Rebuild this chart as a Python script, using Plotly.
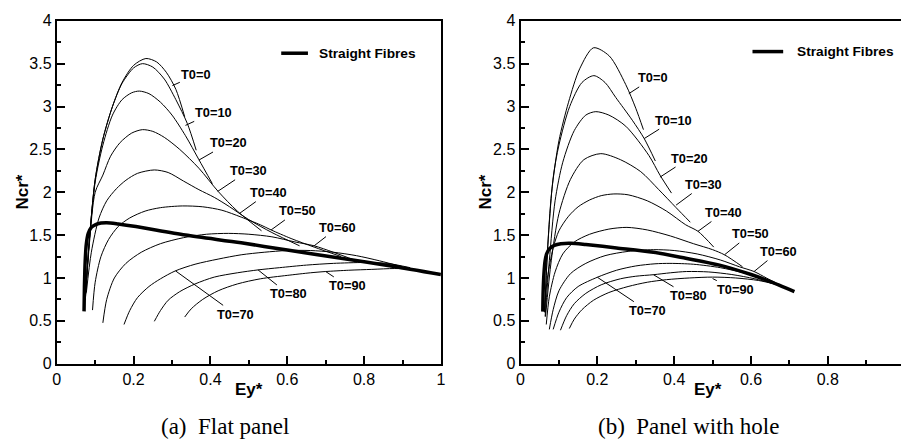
import plotly.graph_objects as go

W, H = 906, 448

# ---------------- data: (a) Flat panel ----------------
flat_straight_x = [0.071, 0.072, 0.074, 0.077, 0.082, 0.090, 0.100, 0.115, 0.130, 0.160, 0.206, 0.335, 0.480, 0.600, 0.740, 0.870, 1.000]
flat_straight_y = [0.61, 0.90, 1.20, 1.40, 1.52, 1.59, 1.62, 1.64, 1.645, 1.63, 1.60, 1.50, 1.41, 1.325, 1.23, 1.14, 1.04]

flat_t0_0_x = [0.074, 0.085, 0.100, 0.120, 0.145, 0.170, 0.200, 0.232, 0.260, 0.285, 0.310, 0.333]
flat_t0_0_y = [0.75, 1.45, 2.15, 2.62, 3.00, 3.28, 3.48, 3.56, 3.52, 3.40, 3.20, 2.88]
flat_t0_10_x = [0.074, 0.085, 0.100, 0.120, 0.145, 0.170, 0.200, 0.223, 0.250, 0.280, 0.310, 0.340, 0.363]
flat_t0_10_y = [0.75, 1.45, 2.15, 2.62, 3.00, 3.27, 3.45, 3.50, 3.46, 3.32, 3.08, 2.80, 2.49]
flat_t0_20_x = [0.074, 0.085, 0.100, 0.120, 0.145, 0.170, 0.195, 0.215, 0.240, 0.270, 0.300, 0.335, 0.370, 0.405]
flat_t0_20_y = [0.75, 1.45, 2.12, 2.55, 2.90, 3.08, 3.16, 3.18, 3.15, 3.05, 2.90, 2.66, 2.38, 2.10]
flat_t0_30_x = [0.075, 0.085, 0.100, 0.120, 0.140, 0.165, 0.195, 0.223, 0.250, 0.280, 0.320, 0.370, 0.420, 0.470, 0.533]
flat_t0_30_y = [0.78, 1.40, 2.00, 2.20, 2.42, 2.58, 2.69, 2.73, 2.71, 2.64, 2.50, 2.28, 2.01, 1.78, 1.55]
flat_t0_40_x = [0.077, 0.090, 0.110, 0.130, 0.155, 0.180, 0.210, 0.254, 0.290, 0.330, 0.370, 0.410, 0.450, 0.500, 0.560, 0.632]
flat_t0_40_y = [0.83, 1.30, 1.70, 1.90, 2.04, 2.14, 2.22, 2.26, 2.23, 2.13, 2.03, 1.94, 1.83, 1.68, 1.53, 1.375]
flat_t0_50_x = [0.093, 0.100, 0.115, 0.135, 0.160, 0.190, 0.230, 0.270, 0.327, 0.380, 0.430, 0.480, 0.530, 0.558, 0.610, 0.670, 0.740]
flat_t0_50_y = [0.625, 0.95, 1.25, 1.45, 1.60, 1.70, 1.78, 1.82, 1.84, 1.83, 1.79, 1.71, 1.62, 1.56, 1.46, 1.36, 1.25]
flat_t0_60_x = [0.120, 0.130, 0.150, 0.180, 0.220, 0.270, 0.330, 0.390, 0.447, 0.500, 0.560, 0.620, 0.670, 0.720, 0.780]
flat_t0_60_y = [0.476, 0.75, 1.00, 1.17, 1.30, 1.40, 1.47, 1.51, 1.52, 1.51, 1.48, 1.42, 1.375, 1.30, 1.20]
flat_t0_70_x = [0.175, 0.190, 0.210, 0.240, 0.270, 0.309, 0.360, 0.420, 0.480, 0.540, 0.600, 0.660, 0.720, 0.780, 0.840, 0.900]
flat_t0_70_y = [0.457, 0.62, 0.77, 0.90, 0.99, 1.083, 1.16, 1.22, 1.27, 1.30, 1.32, 1.32, 1.30, 1.26, 1.20, 1.13]
flat_t0_80_x = [0.254, 0.270, 0.290, 0.320, 0.360, 0.410, 0.470, 0.524, 0.580, 0.650, 0.720, 0.800, 0.860, 0.920]
flat_t0_80_y = [0.494, 0.62, 0.74, 0.84, 0.93, 1.01, 1.06, 1.094, 1.12, 1.15, 1.17, 1.18, 1.17, 1.12]
flat_t0_90_x = [0.333, 0.350, 0.380, 0.420, 0.470, 0.530, 0.600, 0.660, 0.700, 0.760, 0.820, 0.880, 0.930]
flat_t0_90_y = [0.544, 0.64, 0.75, 0.85, 0.93, 0.99, 1.03, 1.06, 1.075, 1.09, 1.10, 1.11, 1.10]

# ---------------- data: (b) Panel with hole ----------------
hole_straight_x = [0.058, 0.059, 0.061, 0.064, 0.068, 0.075, 0.088, 0.105, 0.131, 0.170, 0.250, 0.346, 0.430, 0.518, 0.600, 0.647, 0.713]
hole_straight_y = [0.607, 0.85, 1.05, 1.20, 1.28, 1.34, 1.38, 1.40, 1.405, 1.39, 1.35, 1.30, 1.23, 1.15, 1.04, 0.963, 0.84]

hole_t0_0_x = [0.063, 0.070, 0.081, 0.100, 0.125, 0.154, 0.190, 0.231, 0.274, 0.300, 0.320]
hole_t0_0_y = [0.60, 1.30, 2.00, 2.60, 3.05, 3.44, 3.685, 3.59, 3.255, 2.98, 2.73]
hole_t0_10_x = [0.063, 0.070, 0.085, 0.100, 0.128, 0.160, 0.191, 0.220, 0.248, 0.291, 0.322, 0.351]
hole_t0_10_y = [0.60, 1.30, 2.17, 2.55, 3.00, 3.28, 3.36, 3.28, 3.105, 2.84, 2.626, 2.364]
hole_t0_20_x = [0.064, 0.075, 0.090, 0.110, 0.140, 0.170, 0.196, 0.230, 0.274, 0.334, 0.363, 0.393]
hole_t0_20_y = [0.55, 1.20, 1.90, 2.35, 2.72, 2.90, 2.94, 2.90, 2.77, 2.43, 2.20, 1.99]
hole_t0_30_x = [0.065, 0.080, 0.100, 0.130, 0.165, 0.209, 0.260, 0.313, 0.360, 0.405, 0.442]
hole_t0_30_y = [0.55, 1.20, 1.75, 2.15, 2.38, 2.45, 2.38, 2.24, 2.03, 1.82, 1.65]
hole_t0_40_x = [0.062, 0.070, 0.085, 0.100, 0.125, 0.150, 0.180, 0.210, 0.243, 0.280, 0.330, 0.380, 0.430, 0.462, 0.503]
hole_t0_40_y = [0.62, 1.00, 1.35, 1.55, 1.72, 1.83, 1.91, 1.96, 1.98, 1.97, 1.90, 1.78, 1.62, 1.544, 1.36]
hole_t0_50_x = [0.067, 0.075, 0.090, 0.110, 0.140, 0.180, 0.230, 0.277, 0.330, 0.390, 0.450, 0.500, 0.531, 0.578]
hole_t0_50_y = [0.457, 0.78, 1.07, 1.28, 1.42, 1.51, 1.57, 1.59, 1.56, 1.49, 1.40, 1.33, 1.27, 1.13]
hole_t0_60_x = [0.075, 0.085, 0.100, 0.130, 0.170, 0.220, 0.280, 0.346, 0.400, 0.460, 0.520, 0.570, 0.608, 0.640, 0.670]
hole_t0_60_y = [0.40, 0.63, 0.85, 1.05, 1.17, 1.26, 1.31, 1.33, 1.32, 1.28, 1.21, 1.13, 1.075, 1.00, 0.93]
hole_t0_70_x = [0.085, 0.100, 0.120, 0.150, 0.200, 0.250, 0.300, 0.350, 0.389, 0.450, 0.520, 0.580, 0.630, 0.670]
hole_t0_70_y = [0.40, 0.60, 0.77, 0.90, 1.008, 1.09, 1.14, 1.165, 1.17, 1.16, 1.12, 1.06, 0.99, 0.92]
hole_t0_80_x = [0.104, 0.120, 0.140, 0.170, 0.210, 0.260, 0.300, 0.346, 0.390, 0.432, 0.490, 0.550, 0.610, 0.670]
hole_t0_80_y = [0.39, 0.56, 0.70, 0.82, 0.92, 0.99, 1.02, 1.038, 1.06, 1.075, 1.07, 1.04, 0.99, 0.92]
hole_t0_90_x = [0.127, 0.140, 0.160, 0.190, 0.230, 0.280, 0.330, 0.380, 0.440, 0.500, 0.560, 0.620, 0.670]
hole_t0_90_y = [0.41, 0.52, 0.63, 0.74, 0.83, 0.90, 0.95, 0.98, 1.00, 1.01, 1.00, 0.97, 0.92]

t0_values = [0, 10, 20, 30, 40, 50, 60, 70, 80, 90]
x_ticks = [0, 0.2, 0.4, 0.6, 0.8, 1]
y_ticks = [0, 0.5, 1, 1.5, 2, 2.5, 3, 3.5, 4]

flat_curves = [
    (flat_t0_0_x, flat_t0_0_y), (flat_t0_10_x, flat_t0_10_y), (flat_t0_20_x, flat_t0_20_y),
    (flat_t0_30_x, flat_t0_30_y), (flat_t0_40_x, flat_t0_40_y), (flat_t0_50_x, flat_t0_50_y),
    (flat_t0_60_x, flat_t0_60_y), (flat_t0_70_x, flat_t0_70_y), (flat_t0_80_x, flat_t0_80_y),
    (flat_t0_90_x, flat_t0_90_y)]
hole_curves = [
    (hole_t0_0_x, hole_t0_0_y), (hole_t0_10_x, hole_t0_10_y), (hole_t0_20_x, hole_t0_20_y),
    (hole_t0_30_x, hole_t0_30_y), (hole_t0_40_x, hole_t0_40_y), (hole_t0_50_x, hole_t0_50_y),
    (hole_t0_60_x, hole_t0_60_y), (hole_t0_70_x, hole_t0_70_y), (hole_t0_80_x, hole_t0_80_y),
    (hole_t0_90_x, hole_t0_90_y)]

# label anchor points on curves (data) and label text centres (pixels) -- layout
flat_label_pts = [(0.301, 3.244), (0.335, 2.78), (0.370, 2.375), (0.419, 2.01), (0.477, 1.757),
                  (0.558, 1.56), (0.670, 1.375), (0.309, 1.083), (0.524, 1.094), (0.700, 1.075)]
flat_label_px = [(194, 70), (211.7, 109), (226.7, 141), (246.7, 170), (266.7, 192.7),
                 (296, 211.7), (336.7, 229), (233.3, 316.7), (286.7, 296.3), (346.7, 288.3)]
hole_label_pts = [(0.282, 3.15), (0.322, 2.626), (0.363, 2.176), (0.405, 1.85), (0.462, 1.544),
                  (0.531, 1.27), (0.608, 1.075), (0.200, 1.008), (0.346, 1.038), (0.500, 0.993)]
hole_label_px = [(655.3, 73.3), (676, 117.3), (692, 156.7), (706.7, 184.3), (726.7, 213.3),
                 (753.7, 235.7), (782, 254), (649.3, 313.3), (691, 298.3), (738.3, 292.3)]

# panel geometry in pixels
Y0_PX, Y4_PX = 369.7, 13.3
PX_PER_X = 388.0
L_X0 = 53.3
R_X0 = 521.7

def paper_x(px):
    return px / W

def paper_y(py):
    return 1 - py / H

fig = go.Figure()

for (cx, cy) in flat_curves:
    fig.add_trace(go.Scatter(x=cx, y=cy, mode="lines", line=dict(color="black", width=1, shape="spline", smoothing=0.8),
                             xaxis="x", yaxis="y", showlegend=False, hoverinfo="skip"))
fig.add_trace(go.Scatter(x=flat_straight_x, y=flat_straight_y, mode="lines",
                         line=dict(color="black", width=3.5, shape="spline", smoothing=0.8),
                         xaxis="x", yaxis="y", showlegend=False))
for (cx, cy) in hole_curves:
    fig.add_trace(go.Scatter(x=cx, y=cy, mode="lines", line=dict(color="black", width=1, shape="spline", smoothing=0.8),
                             xaxis="x2", yaxis="y2", showlegend=False, hoverinfo="skip"))
fig.add_trace(go.Scatter(x=hole_straight_x, y=hole_straight_y, mode="lines",
                         line=dict(color="black", width=3.5, shape="spline", smoothing=0.8),
                         xaxis="x2", yaxis="y2", showlegend=False))

tickfont = dict(family="Liberation Sans, Arial, sans-serif", size=16, color="black")
ydom = [paper_y(Y0_PX), paper_y(Y4_PX)]

def xaxis_cfg(dom, rng, mirror):
    return dict(domain=dom, range=rng, tickvals=x_ticks, ticktext=[("%g" % v) for v in x_ticks],
                ticks="inside", ticklen=8, tickwidth=1.5, tickcolor="black",
                minor=dict(dtick=0.1, ticks="inside", ticklen=4, tickwidth=1.5, tickcolor="black"),
                showline=True, linewidth=2, linecolor="black", mirror=mirror,
                showgrid=False, zeroline=False, tickfont=tickfont)

def yaxis_cfg(anchor, mirror):
    return dict(domain=ydom, range=[0, 4], tickvals=y_ticks, ticktext=[("%g" % v) for v in y_ticks],
                ticks="inside", ticklen=8, tickwidth=1.5, tickcolor="black", anchor=anchor,
                minor=dict(dtick=0.25, ticks="inside", ticklen=4, tickwidth=1.5, tickcolor="black"),
                showline=True, linewidth=2, linecolor="black", mirror=mirror,
                showgrid=False, zeroline=False, tickfont=tickfont)

fig.update_layout(
    width=W, height=H, margin=dict(l=0, r=0, t=0, b=0),
    paper_bgcolor="white", plot_bgcolor="white", showlegend=False,
    xaxis=xaxis_cfg([paper_x(L_X0), paper_x(L_X0 + PX_PER_X)], [0, 1], True) | dict(anchor="y"),
    yaxis=yaxis_cfg("x", True),
    xaxis2=xaxis_cfg([paper_x(R_X0), 1.0], [0, (W - R_X0) / PX_PER_X], True) | dict(anchor="y2"),
    yaxis2=yaxis_cfg("x2", False),
)

ann = []
lblfont = dict(family="Liberation Sans, Arial, sans-serif", size=12.8, color="black")
for i, t0 in enumerate(t0_values):
    for pts, pxs, xr, yr, x0 in ((flat_label_pts, flat_label_px, "x", "y", L_X0),
                                 (hole_label_pts, hole_label_px, "x2", "y2", R_X0)):
        dx, dy = pts[i]
        tx, ty = pxs[i]
        apx = x0 + dx * PX_PER_X
        apy = Y0_PX - dy * (Y0_PX - Y4_PX) / 4
        ann.append(dict(x=dx, y=dy, xref=xr, yref=yr, text="<b>T0=%d</b>" % t0,
                        showarrow=True, arrowhead=0, arrowwidth=1, arrowcolor="black",
                        ax=tx - apx, ay=ty - apy, font=lblfont, borderpad=1))

titlefont = dict(family="Liberation Sans, Arial, sans-serif", size=17, color="black")
for cx in (247, 711):
    ann.append(dict(x=paper_x(cx), y=paper_y(397), xref="paper", yref="paper", text="<b>Ey*</b>",
                    showarrow=False, font=titlefont, xanchor="center", yanchor="middle"))
for cx in (18.3, 486):
    ann.append(dict(x=paper_x(cx), y=paper_y(191.7), xref="paper", yref="paper", text="<b>Ncr*</b>",
                    showarrow=False, font=titlefont, textangle=-90, xanchor="center", yanchor="middle"))

legfont = dict(family="Liberation Sans, Arial, sans-serif", size=13.7, color="black")
shapes = []
for (lx0, lx1, ly, tx) in ((280, 307, 47, 316), (756, 787, 45.3, 799)):
    shapes.append(dict(type="line", xref="paper", yref="paper", x0=paper_x(lx0), x1=paper_x(lx1),
                       y0=paper_y(ly), y1=paper_y(ly), line=dict(color="black", width=3.5)))
    ann.append(dict(x=paper_x(tx), y=paper_y(ly), xref="paper", yref="paper", text="<b>Straight Fibres</b>",
                    showarrow=False, font=legfont, xanchor="left", yanchor="middle"))

capfont = dict(family="Liberation Serif, Times New Roman, serif", size=23, color="black")
for cx, txt in ((223, "(a)\u00a0 Flat panel"), (691.7, "(b)\u00a0 Panel with hole")):
    ann.append(dict(x=paper_x(cx), y=paper_y(435.5), xref="paper", yref="paper", text=txt,
                    showarrow=False, font=capfont, xanchor="center", yanchor="middle"))

fig.update_layout(annotations=ann, shapes=shapes)
fig.write_html("out.html")
